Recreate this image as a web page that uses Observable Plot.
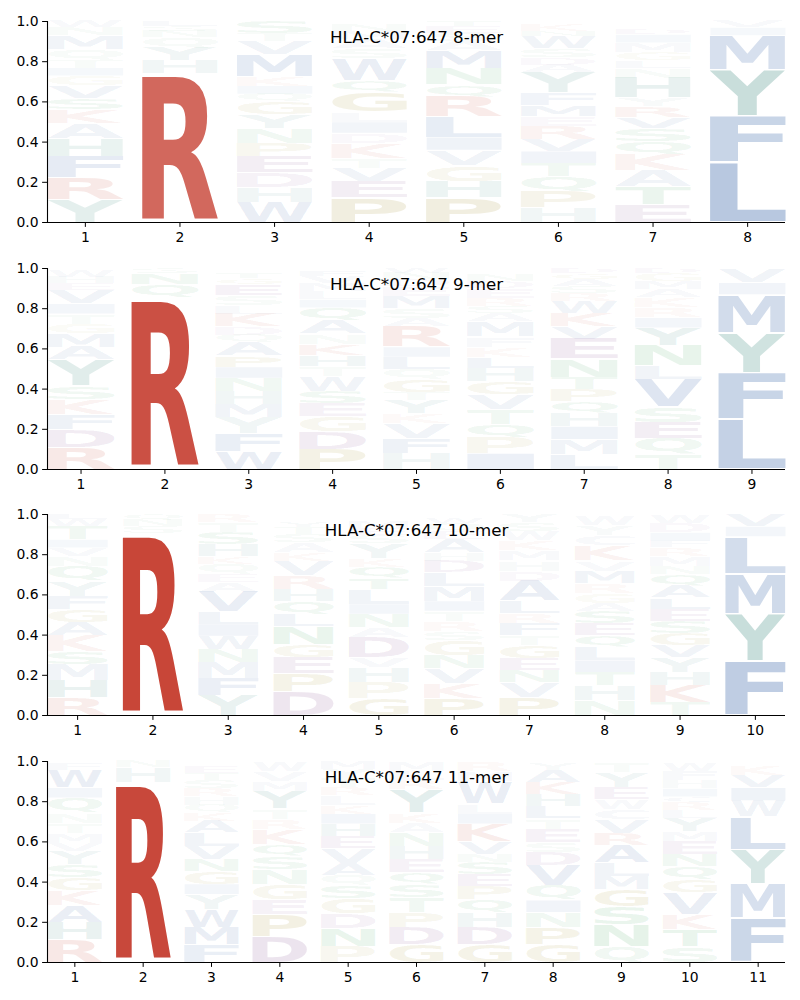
<!DOCTYPE html>
<html><head><meta charset="utf-8">
<script src="https://cdn.jsdelivr.net/npm/d3@7"></script>
<script src="https://cdn.jsdelivr.net/npm/@observablehq/plot@0.6"></script>
<style>body{margin:0;background:#fff}#chart svg{display:block}</style>
</head><body><div id="chart"></div>
<script>
const allele = "HLA-C*07:647";
const peptideLengths = [8, 9, 10, 11];
const yTicks = [0, 0.2, 0.4, 0.6, 0.8, 1.0];

// Each column: [letter, probability] from bottom to top
const stack8 = [
  [["Y",.115],["R",.11],["F",.105],["H",.09],["A",.075],["K",.07],["S",.055],["V",.06],["G",.05],["I",.04],["T",.04],["Q",.05],["M",.07],["N",.04],["W",.03]],
  [["R",.74],["H",.065],["Y",.065],["Q",.05],["N",.03],["S",.025],["L",.025]],
  [["W",.1],["H",.075],["D",.075],["E",.08],["P",.065],["N",.075],["Y",.065],["G",.065],["Q",.04],["I",.04],["K",.045],["M",.11],["V",.065],["T",.04],["S",.06]],
  [["P",.125],["E",.08],["V",.065],["T",.05],["K",.075],["D",.05],["I",.055],["L",.05],["G",.1],["Q",.055],["W",.11],["S",.05],["A",.045],["M",.04],["N",.035],["F",.015]],
  [["P",.125],["H",.08],["G",.08],["V",.075],["I",.065],["L",.1],["R",.1],["Q",.06],["N",.08],["M",.09],["A",.045],["S",.04],["E",.035],["T",.025]],
  [["H",.075],["P",.08],["Q",.075],["T",.065],["I",.06],["V",.06],["R",.065],["E",.05],["M",.055],["F",.06],["Y",.1],["A",.04],["D",.035],["S",.045],["W",.06],["N",.025],["K",.03],["L",.02]],
  [["E",.09],["T",.09],["A",.08],["K",.08],["Q",.065],["S",.065],["V",.055],["R",.055],["Y",.04],["H",.1],["N",.05],["L",.035],["G",.04],["M",.05],["I",.04],["D",.025],["W",.02],["F",.02]],
  [["L",.30],["F",.23],["Y",.23],["M",.17],["I",.04],["V",.03]]
];
const stack9 = [
  [["R",.11],["D",.09],["F",.075],["K",.075],["S",.065],["Y",.13],["A",.065],["M",.065],["G",.05],["T",.05],["I",.05],["V",.065],["E",.035],["H",.03],["W",.03],["N",.015]],
  [["R",.855],["Q",.065],["N",.055],["S",.025]],
  [["W",.09],["F",.09],["Y",.08],["M",.065],["H",.065],["N",.065],["I",.055],["P",.055],["A",.065],["Q",.04],["D",.04],["K",.065],["L",.04],["S",.05],["E",.055],["G",.03],["T",.03],["R",.02]],
  [["P",.1],["D",.09],["G",.075],["E",.065],["S",.06],["W",.075],["T",.05],["H",.055],["K",.055],["N",.05],["A",.065],["Q",.065],["I",.04],["L",.04],["M",.04],["V",.035],["F",.025],["Y",.015]],
  [["H",.08],["F",.075],["V",.075],["K",.05],["Y",.065],["T",.04],["G",.065],["Q",.05],["L",.06],["I",.05],["R",.1],["A",.04],["S",.05],["M",.06],["E",.05],["D",.035],["N",.03],["W",.025]],
  [["I",.08],["P",.08],["Q",.065],["T",.075],["V",.075],["G",.065],["H",.065],["L",.055],["K",.05],["F",.05],["M",.075],["A",.04],["S",.035],["R",.04],["E",.05],["D",.035],["N",.03],["Y",.02],["W",.015]],
  [["L",.075],["M",.075],["I",.065],["H",.065],["Q",.06],["P",.06],["T",.06],["N",.09],["E",.1],["V",.06],["K",.065],["W",.06],["R",.04],["S",.035],["A",.035],["G",.03],["D",.025]],
  [["T",.075],["Q",.08],["E",.08],["S",.075],["V",.14],["L",.065],["N",.1],["Y",.09],["I",.05],["R",.05],["K",.05],["A",.04],["M",.04],["G",.04],["D",.025]],
  [["L",.25],["F",.23],["Y",.2],["M",.19],["I",.06],["V",.07]]
];
const stack10 = [
  [["R",.09],["H",.085],["M",.08],["S",.065],["K",.08],["A",.065],["G",.065],["F",.065],["Y",.075],["Q",.075],["N",.05],["V",.04],["I",.04],["T",.065],["W",.035],["L",.025]],
  [["R",.905],["S",.035],["N",.03],["Q",.03]],
  [["Y",.1],["F",.085],["M",.08],["N",.065],["W",.065],["I",.06],["L",.06],["V",.1],["A",.05],["E",.04],["Q",.05],["K",.035],["H",.06],["S",.06],["T",.05],["R",.04]],
  [["D",.12],["P",.09],["E",.08],["G",.065],["N",.09],["L",.06],["Q",.065],["H",.06],["R",.065],["V",.075],["K",.04],["A",.05],["S",.04],["T",.035],["Y",.025],["W",.02],["M",.02]],
  [["G",.085],["P",.08],["H",.075],["V",.05],["D",.1],["A",.05],["N",.065],["I",.05],["L",.075],["T",.055],["Q",.055],["K",.04],["Y",.075],["S",.04],["E",.035],["M",.03],["F",.02],["R",.02]],
  [["P",.085],["K",.075],["V",.075],["N",.065],["G",.075],["S",.045],["R",.05],["T",.05],["I",.05],["M",.075],["L",.065],["D",.06],["H",.04],["A",.065],["E",.04],["Q",.04],["W",.025],["Y",.02]],
  [["P",.09],["V",.075],["N",.06],["E",.06],["G",.065],["T",.05],["F",.06],["R",.05],["L",.06],["A",.1],["D",.05],["H",.05],["M",.05],["K",.05],["W",.045],["S",.045],["Y",.04]],
  [["N",.075],["H",.075],["T",.065],["I",.06],["L",.065],["Q",.06],["E",.06],["S",.06],["A",.04],["G",.05],["R",.05],["M",.06],["V",.05],["K",.075],["C",.05],["Y",.05],["W",.05]],
  [["T",.065],["K",.085],["H",.065],["Y",.075],["V",.06],["G",.06],["S",.06],["E",.06],["L",.055],["A",.06],["Q",.06],["N",.04],["M",.05],["R",.04],["F",.035],["I",.04],["D",.045],["W",.04]],
  [["F",.27],["Y",.235],["M",.2],["L",.185],["I",.05],["V",.06]]
];
const stack11 = [
  [["R",.115],["H",.085],["A",.085],["K",.075],["G",.065],["S",.065],["Y",.065],["V",.04],["M",.05],["T",.05],["N",.05],["Q",.075],["I",.05],["W",.085],["F",.035],["L",.01]],
  [["R",.895],["H",.075],["N",.03]],
  [["F",.09],["M",.085],["W",.09],["Y",.075],["I",.05],["G",.065],["N",.06],["V",.065],["L",.065],["A",.06],["K",.04],["Q",.04],["H",.04],["R",.04],["S",.04],["T",.035],["E",.03],["D",.02],["P",.01]],
  [["D",.13],["P",.11],["E",.075],["G",.075],["N",.075],["S",.065],["Q",.06],["K",.075],["R",.05],["T",.05],["Y",.085],["M",.05],["V",.05],["W",.05]],
  [["P",.08],["N",.09],["D",.075],["G",.075],["S",.065],["Q",.05],["A",.06],["V",.075],["E",.06],["H",.06],["I",.05],["K",.04],["L",.05],["R",.04],["T",.045],["Y",.045],["M",.04]],
  [["G",.09],["D",.085],["P",.075],["T",.075],["S",.065],["Q",.06],["E",.065],["H",.065],["N",.065],["A",.05],["K",.05],["Y",.115],["R",.045],["L",.045],["M",.045]],
  [["G",.09],["D",.085],["H",.075],["Q",.065],["P",.065],["E",.06],["S",.06],["N",.04],["V",.06],["K",.09],["I",.05],["L",.05],["W",.11],["M",.05],["R",.05]],
  [["G",.09],["P",.085],["N",.075],["I",.06],["Q",.075],["V",.1],["D",.065],["S",.05],["E",.065],["T",.05],["L",.06],["H",.06],["K",.06],["A",.06],["Y",.03],["W",.015]],
  [["Q",.08],["N",.11],["S",.09],["G",.085],["M",.065],["L",.065],["A",.09],["R",.06],["V",.065],["C",.05],["W",.05],["E",.06],["Y",.075],["T",.05]],
  [["S",.08],["T",.085],["K",.075],["V",.11],["G",.065],["Q",.065],["N",.06],["E",.065],["M",.05],["Y",.065],["L",.04],["R",.04],["C",.025],["I",.04],["H",.04],["F",.045],["W",.04]],
  [["F",.22],["M",.17],["Y",.17],["L",.165],["W",.08],["I",.065],["V",.06],["K",.05],["R",.02]]
];

const residueGroup = {R:"basic",K:"basic",A:"hydrophobic",C:"hydrophobic",F:"hydrophobic",I:"hydrophobic",L:"hydrophobic",M:"hydrophobic",V:"hydrophobic",W:"hydrophobic",H:"aromatic",Y:"aromatic",N:"polar",Q:"polar",S:"polar",T:"polar",G:"special",P:"special",D:"acidic",E:"acidic"};
const groupRGB = {basic:[198,64,50],hydrophobic:[33,83,158],aromatic:[35,123,111],polar:[40,150,70],special:[150,130,20],acidic:[120,60,130]};

const panels = [
  {len: 8, stacks: stack8, height: 247, marginBottom: 25},
  {len: 9, stacks: stack9, height: 246, marginBottom: 24},
  {len: 10, stacks: stack10, height: 247, marginBottom: 25},
  {len: 11, stacks: stack11, height: 260, marginBottom: 38}
];

const FONT = "DejaVu Sans";
const ctx = document.createElement("canvas").getContext("2d");
ctx.font = `bold 100px '${FONT}'`;
const inkCache = {};
function ink(ch) {
  if (!inkCache[ch]) {
    const m = ctx.measureText(ch);
    inkCache[ch] = {l: -m.actualBoundingBoxLeft, r: m.actualBoundingBoxRight, t: -m.actualBoundingBoxAscent, b: m.actualBoundingBoxDescent};
  }
  return inkCache[ch];
}

const chart = document.getElementById("chart");
panels.forEach((panel, k) => {
  const rows = [];
  panel.stacks.forEach((col, i) => {
    let c = 0;
    col.forEach(([letter, p]) => {
      const rgb = groupRGB[residueGroup[letter]];
      const a = Math.min(1, p * 1.07);
      rows.push({pos: i + 1, letter, p, lo: c, hi: c + p, fill: `rgba(${rgb[0]},${rgb[1]},${rgb[2]},${a.toFixed(3)})`});
      c += p;
    });
  });
  const n = panel.len;
  const plot = Plot.plot({
    width: 800, height: panel.height,
    marginTop: 21, marginBottom: panel.marginBottom, marginLeft: 47, marginRight: 15,
    style: {fontFamily: FONT, fontSize: "13.9px", color: "#000", background: "#fff", overflow: "visible"},
    x: {domain: [0.6, n + 0.4], ticks: d3.range(1, n + 1), tickFormat: "d", tickSize: 4.9, tickPadding: 4.9, label: null},
    y: {domain: [0, 1], ticks: yTicks, tickFormat: ".1f", tickSize: 4.9, tickPadding: 4, label: null},
    marks: [
      Plot.text(rows, {x: "pos", y: d => (d.lo + d.hi) / 2, text: "letter", fill: "fill", fontSize: 100, fontWeight: "bold", fontFamily: FONT, textAnchor: "start", lineAnchor: "bottom"}),
      Plot.ruleX([0.6], {stroke: "#000", strokeWidth: 1.1}),
      Plot.ruleY([0], {stroke: "#000", strokeWidth: 1.1}),
      Plot.text([`${allele} ${peptideLengths[k]}-mer`], {frameAnchor: "top", dy: 21, lineAnchor: "bottom", fontSize: 16.67, fill: "#000", fontFamily: FONT})
    ]
  });
  const X = plot.scale("x"), Y = plot.scale("y");
  const g = plot.querySelector('g[aria-label="text"]');
  const texts = g.querySelectorAll("text");
  texts.forEach((el, i) => {
    const d = rows[i];
    const m = ink(d.letter);
    const x0 = X.apply(d.pos - 0.4), x1 = X.apply(d.pos + 0.4);
    const yTop = Y.apply(d.hi - 0.025 * d.p), yBot = Y.apply(d.lo + 0.025 * d.p);
    const sx = (x1 - x0) / (m.r - m.l), sy = (yBot - yTop) / (m.b - m.t);
    el.removeAttribute("x"); el.removeAttribute("y");
    el.setAttribute("dy", "0");
    el.setAttribute("text-anchor", "start");
    el.setAttribute("transform", `translate(${x0},${yTop}) scale(${sx},${sy}) translate(${-m.l},${-m.t})`);
  });
  chart.appendChild(plot);
});
</script>
</body></html>
